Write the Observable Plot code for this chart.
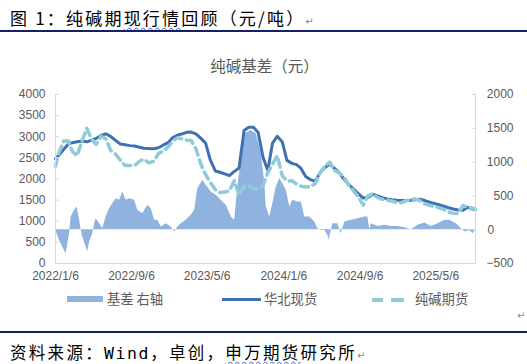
<!DOCTYPE html>
<html><head><meta charset="utf-8">
<script src="https://cdn.jsdelivr.net/npm/d3@7"></script>
<script src="https://cdn.jsdelivr.net/npm/@observablehq/plot@0.6"></script>
<style>
body{margin:0;background:#fff;width:527px;height:364px;overflow:hidden;position:relative;font-family:"Noto Sans CJK SC","Noto Sans",sans-serif;}
.abs{position:absolute;white-space:nowrap;}
#title{left:10px;top:6px;font-size:17px;letter-spacing:2.2px;color:#000;line-height:24px;}
#caption{left:10px;top:342px;font-size:16.5px;letter-spacing:2.3px;color:#000;line-height:21px;}
.mono{font-family:"DejaVu Sans Mono",monospace;letter-spacing:1.6px;}
.wavy{text-decoration:underline wavy #3a5bd0;text-decoration-thickness:1px;text-underline-offset:2px;}
.rule{position:absolute;left:0;width:527px;height:2px;background:#15206a;}
.pm{font-family:"DejaVu Sans",sans-serif;font-size:10px;color:#888;letter-spacing:0;}
#ctitle{left:0;width:529px;top:55px;text-align:center;font-size:15.5px;color:#595959;line-height:20px;}
#chart{position:absolute;left:0;top:80px;}
#legend{left:0;top:290px;width:527px;height:18px;font-size:13.3px;color:#595959;line-height:18px;}
.sw{position:absolute;}
</style></head>
<body>
<div id="title" class="abs">图 1：纯碱期<span class="wavy">现行情</span>回顾（元/吨）<span class="pm">↵</span></div>
<div class="rule" style="top:30px"></div>
<div id="ctitle" class="abs">纯碱基差（元）</div>
<div id="chart"></div>
<div id="legend" class="abs">
  <div class="sw" style="left:67px;top:6px;width:36px;height:6px;background:#8fb2df"></div>
  <div class="abs" style="left:107px;top:0">基差 右轴</div>
  <div class="sw" style="left:222px;top:8px;width:39px;height:3px;background:#3f70b2"></div>
  <div class="abs" style="left:264px;top:0">华北现货</div>
  <div class="sw" style="left:372px;top:8px;width:11px;height:3.5px;background:#8fcbda"></div>
  <div class="sw" style="left:391px;top:8px;width:13px;height:3.5px;background:#8fcbda"></div>
  <div class="abs" style="left:415px;top:0">纯碱期货</div>
</div>
<div class="abs pm" style="left:517px;top:310px">↵</div>
<div class="rule" style="top:331px"></div>
<div id="caption" class="abs">资料来源：<span class="mono">Wind</span>，卓创，<span class="wavy">申万期货</span>研究所<span class="pm">↵</span></div>
<script>
// ---- data ----
const dates = [
 "2022-01-06","2022-01-16","2022-02-01","2022-02-16","2022-03-01","2022-03-16","2022-04-01","2022-04-16",
 "2022-05-01","2022-05-16","2022-06-01","2022-06-16","2022-07-01","2022-07-16","2022-08-01","2022-08-16",
 "2022-09-01","2022-09-16","2022-10-01","2022-10-16","2022-11-01","2022-11-16","2022-12-01","2022-12-16",
 "2023-01-01","2023-01-16","2023-02-01","2023-02-16","2023-03-01","2023-03-16","2023-04-01","2023-04-16",
 "2023-05-01","2023-05-16","2023-06-01","2023-06-16","2023-07-01","2023-07-16","2023-08-01","2023-08-16",
 "2023-09-01","2023-09-16","2023-10-01","2023-10-16","2023-11-01","2023-11-16","2023-12-01","2023-12-16",
 "2024-01-01","2024-01-16","2024-02-01","2024-02-16","2024-03-01","2024-03-16","2024-04-01","2024-04-16",
 "2024-05-01","2024-05-16","2024-06-01","2024-06-16","2024-07-01","2024-07-16","2024-08-01","2024-08-16",
 "2024-09-01","2024-09-16","2024-10-01","2024-10-16","2024-11-01","2024-11-16","2024-12-01","2024-12-16",
 "2025-01-01","2025-01-16","2025-02-01","2025-02-16","2025-03-01","2025-03-16","2025-04-01","2025-04-16",
 "2025-05-01","2025-05-16","2025-06-01","2025-06-16","2025-07-01","2025-07-16","2025-08-01","2025-08-16",
 "2025-09-01","2025-09-10"];
// 华北现货 (left axis)
const spot = [
 2480,2560,2700,2830,2860,2880,2900,2880, 2920,2960,3030,3070,3010,2920,2830,2810,
 2790,2780,2750,2730,2720,2714,2740,2800, 2860,2980,3040,3070,3105,3110,3060,2960,
 2850,2450,2190,2160,2120,2080,2180,2260, 3150,3225,3225,3100,2500,2200,2850,3010,
 2880,2440,2370,2340,2250,2060,1980,1950, 2150,2270,2350,2250,2150,2000,1870,1760,
 1650,1550,1560,1640,1600,1560,1530,1510, 1495,1490,1490,1495,1510,1520,1490,1450,
 1420,1390,1355,1320,1290,1265,1260,1330, 1290,1270];
// 纯碱期货 (left axis)
const futures = [
 2300,2600,2900,2900,2650,2550,2900,3200, 2950,2820,3010,2950,2680,2600,2450,2320,
 2320,2320,2420,2470,2380,2420,2600,2660, 2760,2900,2980,2940,2920,2910,2700,2350,
 2100,1920,1750,1680,1690,1720,1960,1620, 1830,1840,1780,1770,1850,2150,2350,2550,
 2080,1950,1960,1880,1830,1810,1820,1900, 2150,2300,2400,2200,2150,2050,1850,1720,
 1570,1380,1600,1650,1560,1520,1500,1480, 1440,1440,1490,1510,1530,1490,1410,1380,
 1350,1320,1280,1220,1190,1180,1370,1330, 1310,1280];
// 基差 右轴 (right axis), own dates
const basisDates = [
 "2022-01-06","2022-01-19","2022-01-29","2022-02-09","2022-02-20","2022-02-25","2022-03-08","2022-03-16",
 "2022-03-24","2022-03-29","2022-04-03","2022-04-14","2022-04-19","2022-04-25","2022-05-05","2022-05-11",
 "2022-05-16","2022-05-27","2022-06-06","2022-06-17","2022-06-28","2022-07-08","2022-07-19","2022-07-30",
 "2022-08-09","2022-08-20","2022-08-31","2022-09-16","2022-09-26","2022-10-12","2022-10-28","2022-11-08",
 "2022-11-19","2022-11-29","2022-12-10","2022-12-26","2023-01-11","2023-01-22","2023-02-01","2023-02-12",
 "2023-02-28","2023-03-16","2023-03-27","2023-04-06","2023-04-22","2023-05-03","2023-05-19","2023-06-04",
 "2023-06-20","2023-07-06","2023-07-22","2023-08-02","2023-08-12","2023-08-23","2023-09-03","2023-09-24",
 "2023-10-10","2023-10-26","2023-11-06","2023-11-11","2023-11-22","2023-12-02","2023-12-13","2023-12-24",
 "2024-01-03","2024-01-14","2024-01-25","2024-02-04","2024-02-20","2024-03-02","2024-03-13","2024-03-29",
 "2024-04-14","2024-04-24","2024-05-05","2024-05-16","2024-05-26","2024-05-29","2024-06-11","2024-06-27",
 "2024-07-08","2024-07-19","2024-08-09","2024-08-30","2024-09-21","2024-10-01","2024-10-07","2024-10-12",
 "2024-11-02","2024-11-24","2024-12-15","2025-01-05","2025-01-27","2025-02-17","2025-03-10","2025-04-01",
 "2025-04-22","2025-05-13","2025-06-04","2025-06-20","2025-07-11","2025-07-27","2025-08-07","2025-08-23",
 "2025-09-02","2025-09-10"];
const basis = [
 0,-158,-256,-355,-59,187,286,335, 138,0,-108,-256,-330,-182,-59,89,
 163,89,15,187,311,385,458,434, 557,434,458,434,286,237,360,311,
 138,138,39,89,39,-35,39,89, 138,212,286,606,730,656,557,508,
 434,360,187,138,631,1025,1420,1469, 1420,1124,700,335,187,385,631,754,
 680,582,335,434,409,409,187,187, 113,15,-10,-10,-84,-158,89,89,
 -59,113,138,163,187,187,0,89, 49,64,49,49,30,0,64,99,
 49,89,138,138,89,15,-35,-10, -59,0];

const leftTicks = [0,500,1000,1500,2000,2500,3000,3500,4000];
const rightTicks = [-500,0,500,1000,1500,2000];
const xTicks = ["2022-01-06","2022-09-06","2023-05-06","2024-01-06","2024-09-06","2025-05-06"];
const leftDomain = [0,4000], rightDomain = [-500,2000];

// right-axis value -> left-axis units
const k = (leftDomain[1]-leftDomain[0])/(rightDomain[1]-rightDomain[0]);
const toLeft = v => (v - rightDomain[0]) * k + leftDomain[0];
const fromLeft = v => (v - leftDomain[0]) / k + rightDomain[0];

const table = dates.map((d,i)=>({date:new Date(d), spot:spot[i], fut:futures[i]}));
const btable = basisDates.map((d,i)=>({date:new Date(d), basis:basis[i]}));
const fmtDate = d => `${d.getUTCFullYear()}/${d.getUTCMonth()+1}/${d.getUTCDate()}`;
const fmtR = v => { const r = Math.round(fromLeft(v)); return r < 0 ? "−" + (-r) : String(r); };
const axisColor = "#d9d9d9";

const chart = Plot.plot({
  width: 527, height: 205,
  marginLeft: 55, marginRight: 52, marginTop: 14, marginBottom: 22,
  style: {fontFamily: '"Liberation Sans", Arial, sans-serif', fontSize: "12px", color: "#595959", background: "transparent", overflow: "visible"},
  x: {type: "utc", domain: [new Date(dates[0]), new Date(dates[dates.length-1])], label: null},
  y: {domain: leftDomain, label: null},
  marks: [
    Plot.area(btable, {x1: "date", y1: () => toLeft(0), y2: d => toLeft(d.basis), fill: "#8fb2df"}),
    Plot.lineY(table, {x: "date", y: "spot", stroke: "#3f70b2", strokeWidth: 3, strokeLinejoin: "round"}),
    Plot.lineY(table, {x: "date", y: "fut", stroke: "#8fcbda", strokeWidth: 3.5, strokeDasharray: "8,5"}),
    Plot.ruleX([new Date(dates[0]), new Date(dates[dates.length-1])], {stroke: axisColor, strokeWidth: 1}),
    Plot.ruleY([leftDomain[0]], {stroke: axisColor, strokeWidth: 1}),
    Plot.axisY({anchor: "left", ticks: leftTicks, tickSize: 4, dx: 4, fill: "none", stroke: axisColor, label: null}),
    Plot.axisY({anchor: "right", ticks: rightTicks.map(toLeft), tickSize: 4, dx: -4, fill: "none", stroke: axisColor, label: null}),
    Plot.axisY({anchor: "left", ticks: leftTicks, tickFormat: d => String(d), tickSize: 0, tickPadding: 10, label: null, fill: "#595959"}),
    Plot.axisY({anchor: "right", ticks: rightTicks.filter(v => v !== 0).map(toLeft), tickFormat: fmtR, tickSize: 0, tickPadding: 38, textAnchor: "end", label: null, fill: "#595959"}),
    Plot.axisY({anchor: "right", ticks: [toLeft(0)], tickFormat: fmtR, tickSize: 0, tickPadding: 12, textAnchor: "start", label: null, fill: "#595959"}),
    Plot.axisX({ticks: xTicks.map(d => new Date(d)), tickFormat: fmtDate, tickSize: 0, tickPadding: 8, label: null, fill: "#595959"})
  ]
});
document.getElementById("chart").appendChild(chart);
</script>
</body></html>
